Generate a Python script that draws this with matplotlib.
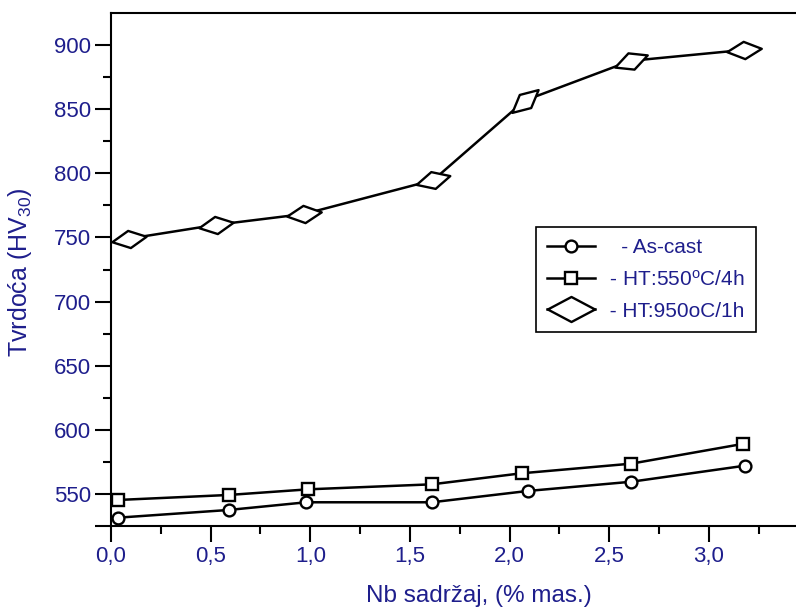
import matplotlib
matplotlib.use("Agg")
import matplotlib.pyplot as plt
import numpy as np
from matplotlib.path import Path
from matplotlib.markers import MarkerStyle
from matplotlib.transforms import Affine2D
from matplotlib.lines import Line2D

plt.rcParams['font.family'] = ['Liberation Sans', 'DejaVu Sans']
plt.rcParams['mathtext.fontset'] = 'custom'
plt.rcParams['mathtext.rm'] = 'Liberation Sans'
plt.rcParams['mathtext.it'] = 'Liberation Sans:italic'

NAVY = '#1e1e8c'

# data
nb_cast = [0.036, 0.59, 0.98, 1.61, 2.09, 2.61, 3.18]
hv_cast = [531.5, 537.5, 543.5, 543.5, 552.3, 559.5, 572.0]

nb_550 = [0.036, 0.59, 0.99, 1.61, 2.06, 2.61, 3.17]
hv_550 = [545.3, 549.2, 553.6, 557.5, 566.1, 573.6, 589.0]

nb_950 = [0.088, 0.525, 0.97, 1.617, 2.075, 2.607, 3.175]
hv_950 = [749.0, 759.8, 768.3, 794.7, 856.7, 887.7, 896.2]

legend_labels = ['   - As-cast', ' - HT:550$^{\\mathregular{o}}$C/4h', ' - HT:950oC/1h']

fig = plt.figure(figsize=(7.96, 6.09), dpi=100)
ax = fig.add_axes([111 / 796, 1 - 526 / 609, 1 - 111 / 796, (526 - 13) / 609])
ax.set_xlim(0, 3.437)
ax.set_ylim(525, 925)

lw = 1.8
mw = 1.7
ax.plot(nb_cast, hv_cast, color='black', lw=lw, marker='o', ms=8.5,
        mfc='white', mec='black', mew=mw, zorder=3, clip_on=False)
ax.plot(nb_550, hv_550, color='black', lw=lw, marker='s', ms=8.5,
        mfc='white', mec='black', mew=mw, zorder=3, clip_on=False)

# diamonds turned along the incoming line, as in the original
ax.plot(nb_950, hv_950, color='black', lw=lw, zorder=3)
base = Path([(-1, 0), (0, 0.5), (1, 0), (0, -0.5), (-1, 0)], closed=True)
pix = ax.transData.transform(np.column_stack([nb_950, hv_950]))
for i in range(len(nb_950)):
    d = pix[1] - pix[0] if i == 0 else pix[i] - pix[i - 1]
    ang = np.arctan2(d[1], d[0])
    m = MarkerStyle(base, transform=Affine2D().rotate(ang))
    ax.plot([nb_950[i]], [hv_950[i]], linestyle='none', marker=m, ms=25,
            mfc='white', mec='black', mew=mw, zorder=4, clip_on=False)

# axes styling
ax.spines['right'].set_visible(False)
for side in ['left', 'bottom', 'top']:
    ax.spines[side].set_linewidth(1.5)

yt = [525, 550, 600, 650, 700, 750, 800, 850, 900]
ax.set_yticks(yt)
ax.set_yticklabels([''] + [str(v) for v in yt[1:]])
ax.set_yticks([575, 625, 675, 725, 775, 825, 875], minor=True)
xt = [0.0, 0.5, 1.0, 1.5, 2.0, 2.5, 3.0]
ax.set_xticks(xt)
ax.set_xticklabels([('%.1f' % v).replace('.', ',') for v in xt])
ax.set_xticks([0.25, 0.75, 1.25, 1.75, 2.25, 2.75, 3.25], minor=True)

ax.tick_params(which='major', direction='out', length=11.5, width=1.5,
               labelsize=16, labelcolor=NAVY, pad=3)
ax.tick_params(which='minor', direction='out', length=6, width=1.5)
ax.tick_params(top=False, right=False, which='both')

ax.set_xlabel('Nb sadržaj, (% mas.)', fontsize=17.5, color=NAVY)
ax.xaxis.set_label_coords(0.537, -0.115)
ax.set_ylabel('Tvrdoća (HV$_{\\mathregular{30}}$)', fontsize=18, color=NAVY)
ax.yaxis.set_label_coords(-0.112, 0.495)

# legend
leg_diamond = MarkerStyle(Path([(-1, 0), (0, 0.53), (1, 0), (0, -0.53), (-1, 0)], closed=True))
handles = [
    Line2D([], [], color='black', lw=lw, marker='o', ms=8.5, mfc='white', mec='black', mew=mw),
    Line2D([], [], color='black', lw=lw, marker='s', ms=8.5, mfc='white', mec='black', mew=mw),
    Line2D([], [], color='black', lw=lw, marker=leg_diamond, ms=34, mfc='white', mec='black', mew=mw),
]
leg = ax.legend(handles, legend_labels, loc='upper left',
                bbox_to_anchor=(536 / 796, 1 - 227 / 609), bbox_transform=fig.transFigure,
                borderaxespad=0, fontsize=15, labelcolor=NAVY, fancybox=False,
                edgecolor='black', framealpha=1, handlelength=2.3, handletextpad=0.4,
                labelspacing=0.58, borderpad=0.55)
leg.get_frame().set_linewidth(1.2)

fig.savefig('out.png', dpi=100)
